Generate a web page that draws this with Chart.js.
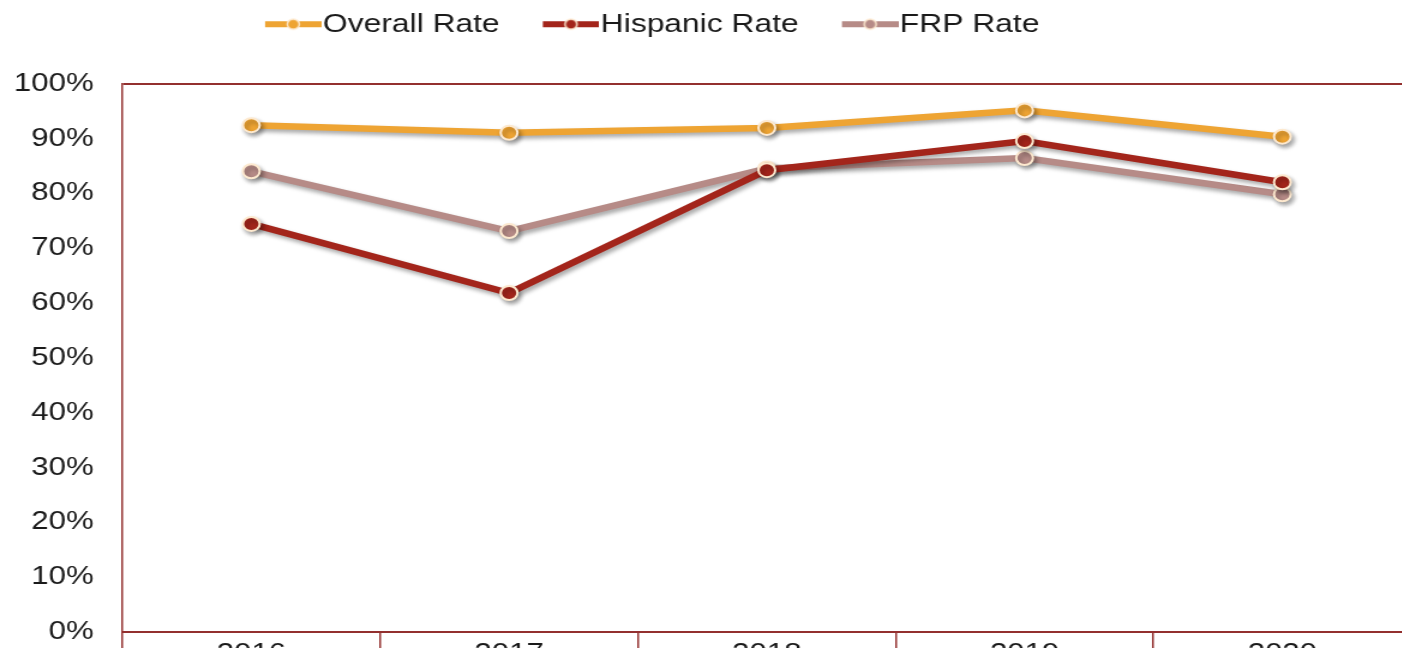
<!DOCTYPE html>
<html>
<head>
<meta charset="utf-8">
<script src="https://cdn.jsdelivr.net/npm/chart.js@4.4.1/dist/chart.umd.min.js"></script>
<style>
  html, body { margin: 0; padding: 0; background: #fff; overflow: hidden; }
  #frame { width: 1402px; height: 648px; overflow: hidden; position: relative; }
  /* the source picture is stretched about 1.2x sideways */
  #wrap { width: 1185px; height: 700px; transform: scaleX(1.2); transform-origin: 0 0; }
</style>
</head>
<body>
<div id="frame"><div id="wrap"><canvas id="rateChart" width="1185" height="700"></canvas></div></div>
<script>
// ==========================================
// DATA
// ==========================================
const years = ['2016', '2017', '2018', '2019', '2020'];
const seriesNames = ['Overall Rate', 'Hispanic Rate', 'FRP Rate'];
const overallRate = [92.4, 91.0, 91.9, 95.1, 90.3];
const hispanicRate = [74.4, 61.8, 84.2, 89.5, 82.0];
const frpRate = [84.0, 73.1, 84.5, 86.4, 79.8];
const yMin = 0, yMax = 100, yStep = 10;

// ==========================================
// STYLE
// ==========================================
const colOverall = '#eea433';
const colHispanic = '#a3251b';
const colFrp = '#b68b87';
const pointEdge = '#fde9cf';
const frameRed = '#93302f';
const FONT = "'Liberation Sans', Arial, sans-serif";

// legend marker: line with a dot, blank room on the left to space the items
function makeMarker(color) {
    const m = 38, v = 47;
    const c = document.createElement('canvas');
    c.width = m + v; c.height = 16;
    const g = c.getContext('2d');
    g.strokeStyle = color; g.lineWidth = 6;
    g.beginPath(); g.moveTo(m, 8); g.lineTo(m + v, 8); g.stroke();
    g.beginPath(); g.arc(m + v / 2, 8, 5, 0, Math.PI * 2);
    g.fillStyle = color; g.fill();
    g.lineWidth = 1.5; g.strokeStyle = pointEdge; g.stroke();
    return c;
}

// move the legend box after layout (source legend is off-centre)
const legendDX = -58, legendDY = -36;
const legendNudge = {
    id: 'legendNudge',
    afterLayout(chart) {
        const lg = chart.legend;
        if (!lg) return;
        lg.left += legendDX; lg.right += legendDX;
        lg.top += legendDY; lg.bottom += legendDY;
    }
};

// soft drop shadow under lines and points
const lineShadow = {
    id: 'lineShadow',
    beforeDatasetsDraw(chart) {
        const ctx = chart.ctx;
        ctx.save();
        ctx.shadowColor = 'rgba(0,0,0,0.35)';
        ctx.shadowBlur = 4;
        ctx.shadowOffsetX = 2;
        ctx.shadowOffsetY = 3;
    },
    afterDatasetsDraw(chart) {
        chart.ctx.restore();
    }
};

function series(label, values, color) {
    return {
        label: label,
        data: values,
        borderColor: color,
        backgroundColor: color,
        borderWidth: 6.5,
        tension: 0,
        pointRadius: 7,
        pointBorderWidth: 2,
        pointBorderColor: pointEdge,
        pointBackgroundColor: color,
        pointStyle: 'circle',
        fill: false
    };
}

const markers = [makeMarker(colOverall), makeMarker(colHispanic), makeMarker(colFrp)];

new Chart(document.getElementById('rateChart'), {
    type: 'line',
    data: {
        labels: years,
        datasets: [
            series(seriesNames[0], overallRate, colOverall),
            series(seriesNames[1], hispanicRate, colHispanic),
            series(seriesNames[2], frpRate, colFrp)
        ]
    },
    options: {
        responsive: false,
        animation: false,
        devicePixelRatio: 1,
        layout: { padding: { top: 37, right: 8, bottom: 0, left: 0 } },
        plugins: {
            tooltip: { enabled: false },
            legend: {
                position: 'top',
                align: 'center',
                labels: {
                    usePointStyle: true,
                    pointStyleWidth: 61,
                    padding: 10,
                    color: '#1a1a1a',
                    font: { family: FONT, size: 26.5 },
                    generateLabels(chart) {
                        return chart.data.datasets.map((ds, i) => ({
                            text: ds.label,
                            pointStyle: markers[i],
                            fillStyle: ds.borderColor,
                            strokeStyle: ds.borderColor,
                            lineWidth: 0,
                            hidden: false,
                            datasetIndex: i,
                            fontColor: '#1a1a1a'
                        }));
                    }
                }
            }
        },
        scales: {
            x: {
                offset: true,
                afterFit(scale) { scale.height = 68; },
                border: { display: true, color: frameRed, width: 2 },
                grid: { offset: true, drawOnChartArea: false, color: frameRed, lineWidth: 1.5, tickLength: 30 },
                ticks: { color: '#1a1a1a', padding: -24, autoSkip: false, maxRotation: 0, font: { family: FONT, size: 26 } }
            },
            y: {
                min: yMin,
                max: yMax,
                afterFit(scale) { scale.width = 102; },
                border: { display: true, color: frameRed, width: 1.5 },
                grid: {
                    drawTicks: false,
                    lineWidth: 2,
                    color: ctx => (ctx.tick && ctx.tick.value === yMax) ? frameRed : 'rgba(0,0,0,0)'
                },
                ticks: {
                    stepSize: yStep,
                    padding: 24,
                    color: '#1a1a1a',
                    font: { family: FONT, size: 26 },
                    callback: v => v + '%'
                }
            }
        }
    },
    plugins: [legendNudge, lineShadow]
});
</script>
</body>
</html>
